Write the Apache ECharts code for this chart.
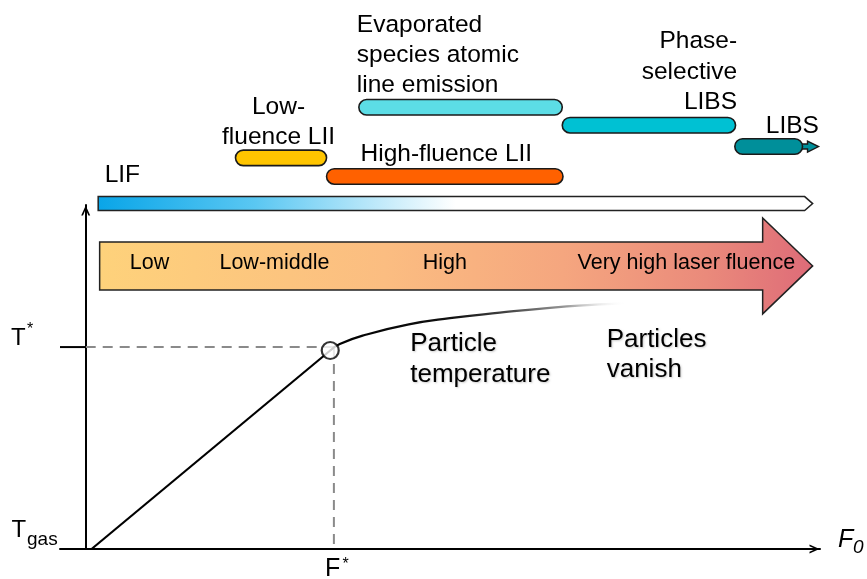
<!DOCTYPE html>
<html><head><meta charset="utf-8">
<script src="https://cdn.jsdelivr.net/npm/echarts@6/dist/echarts.min.js"></script>
<style>html,body{margin:0;padding:0;background:#fff}#chart{width:867px;height:579px}</style>
</head><body><div id="chart"></div>
<script>
// ---------------- data (axis units: fluence 0..100, temperature 0..100) ----------------
const xMin = -3.5, xMax = 100, yMin = 0, yMax = 100;

const bandNames  = ['Low-\nfluence LII', 'High-fluence LII', 'Evaporated\nspecies atomic\nline emission', 'Phase-\nselective\nLIBS', 'LIBS'];
const bandStart  = [20.4, 32.8, 37.2, 64.9, 88.4];
const bandEnd    = [32.8, 65.0, 64.9, 88.5, 99.8];
const bandLevel  = [113.7, 108.3, 128.4, 123.2, 117.0];

const lifName  = 'LIF';
const lifRange = [1.7, 99.0];
const lifLevel = 100.4;

const regimeNames   = ['Low', 'Low-middle', 'High', 'Very high laser fluence'];
const regimeCenters = [8.7, 25.7, 48.9, 81.8];
const fluenceArrowRange = [1.9, 99.0];
const fluenceArrowLevel = 82.3;

const riseX = [0.8, 33.3];
const riseY = [0, 57.7];
const plateauX = [33.3, 34.6, 38.0, 44.0, 49.6, 56.4, 63.2, 70.0, 73.4];
const plateauY = [57.7, 59.6, 62.2, 65.3, 67.1, 68.7, 70.1, 71.1, 71.5];
const knee = [33.3, 57.7];
const Fstar = 33.8;
const Tstar = 58.7;

const axisMarkMain = ['T', 'T', 'F', 'F'];
const axisMarkSub  = ['*', 'gas', '*', '0'];
const axisMarkAt   = [[xMin, Tstar], [xMin, yMin], [Fstar, yMin], [xMax, yMin]];

const noteTexts = ['Particle\ntemperature', 'Particles\nvanish'];
const noteAt    = [[44.2, 55.2], [70.95, 56.5]];

// ---------------- styles ----------------
const FONT = '"Liberation Sans", Arial, Helvetica, sans-serif';
const INK = '#000';
const bandColors = ['#ffc500', '#ff6100', '#5cdde6', '#00c1d3', '#008f9a'];
const bandLabelLayout = [
  {anchor: 'mid',   align: 'center', dx: -2.5, dy: -35.6, lh: 30},
  {anchor: 'start', align: 'left',   dx: 34,   dy: -22,   lh: 30},
  {anchor: 'start', align: 'left',   dx: -2,   dy: -51.8, lh: 30},
  {anchor: 'end',   align: 'right',  dx: 1.5,  dy: -53.3, lh: 30.5},
  {anchor: 'start', align: 'left',   dx: 31,   dy: -20.4, lh: 30}
];
const axisMarkLayout = [
  {mdx: -49,  mdy: -9,   msize: 24, sdx: -33, sdy: -27, ssize: 16, sva: 'top', italic: false},
  {mdx: -48.5,mdy: -18.8,msize: 24, sdx: -33, sdy: -9.5, ssize: 19, sva: 'middle', italic: false},
  {mdx: -9,   mdy: 20.5, msize: 25, sdx: 8.5, sdy: 6.5, ssize: 16, sva: 'top', italic: false},
  {mdx: 18,   mdy: -8.5, msize: 25, sdx: 33,  sdy: -1.5, ssize: 19, sva: 'middle', italic: true}
];

function txt(x, y, text, size, align, va, lh, extra) {
  return {
    type: 'text', x: x, y: y, silent: true,
    style: Object.assign({
      text: text, fill: INK, fontSize: size, fontFamily: FONT,
      align: align, textAlign: align, verticalAlign: va, textVerticalAlign: va,
      lineHeight: lh || Math.round(size * 1.2)
    }, extra || {})
  };
}

const chevron = 'path://M0,10 L4.5,0 L9,10 L7.2,10 L4.5,3.8 L1.8,10 Z';

const chart = echarts.init(document.getElementById('chart'), null, {renderer: 'canvas'});

chart.setOption({
  animation: false,
  backgroundColor: '#fff',
  grid: {left: 60, right: 47, top: 205, bottom: 30, containLabel: false},
  xAxis: {
    type: 'value', min: xMin, max: xMax,
    axisLine: {onZero: true, symbol: ['none', chevron], symbolSize: [9, 11], symbolOffset: [0, -5.5],
               lineStyle: {color: '#000', width: 2}},
    axisTick: {show: false}, axisLabel: {show: false}, splitLine: {show: false}
  },
  yAxis: {
    type: 'value', min: yMin, max: yMax,
    axisLine: {onZero: true, symbol: ['none', chevron], symbolSize: [9, 11], symbolOffset: [0, -5.5],
               lineStyle: {color: '#000', width: 2}},
    axisTick: {show: false}, axisLabel: {show: false}, splitLine: {show: false}
  },
  series: [
    {
      type: 'line', name: 'T* guide', silent: true, symbol: 'none', z: 2,
      data: [[0, Tstar], [Fstar, Tstar]],
      lineStyle: {color: '#8a8a8a', width: 2, type: [10, 7]}
    },
    {
      type: 'line', name: 'F* guide', silent: true, symbol: 'none', z: 2,
      data: [[Fstar, Tstar], [Fstar, yMin]],
      lineStyle: {color: '#8a8a8a', width: 2, type: [10, 7]}
    },
    {
      type: 'line', name: 'T* tick', silent: true, symbol: 'none', z: 3,
      data: [[xMin, Tstar], [0, Tstar]],
      lineStyle: {color: '#000', width: 2}
    },
    {
      type: 'line', name: 'rise', silent: true, symbol: 'none', z: 4,
      data: riseX.map((x, i) => [x, riseY[i]]),
      lineStyle: {color: '#000', width: 2.2}
    },
    {
      type: 'line', name: 'plateau', silent: true, symbol: 'none', smooth: 0.5, z: 4,
      data: plateauX.map((x, i) => [x, plateauY[i]]),
      lineStyle: {
        width: 2.2,
        color: new echarts.graphic.LinearGradient(0, 0, 1, 0, [
          {offset: 0, color: '#000'},
          {offset: 0.42, color: '#111'},
          {offset: 0.6, color: '#444'},
          {offset: 0.8, color: '#9a9a9a'},
          {offset: 1, color: 'rgba(255,255,255,0)'}
        ])
      }
    },
    {
      type: 'scatter', name: 'knee', silent: true, z: 6,
      data: [knee], symbol: 'circle', symbolSize: 17,
      itemStyle: {color: '#fff', borderColor: '#000', borderWidth: 2.2}
    },
    {
      type: 'custom', name: 'fluence arrow', silent: true, clip: false, z: 5,
      encode: {x: [0, 1], y: 2},
      data: [[fluenceArrowRange[0], fluenceArrowRange[1], fluenceArrowLevel]],
      renderItem: function (params, api) {
        const a = api.coord([api.value(0), api.value(2)]);
        const b = api.coord([api.value(1), api.value(2)]);
        const sx = a[0], ex = b[0], cy = a[1];
        const bh = 24, hh = 48, hl = 50;
        return {
          type: 'polygon', silent: true,
          shape: {points: [[sx, cy - bh], [ex - hl, cy - bh], [ex - hl, cy - hh], [ex, cy],
                           [ex - hl, cy + hh], [ex - hl, cy + bh], [sx, cy + bh]]},
          style: {
            fill: new echarts.graphic.LinearGradient(0, 0, 1, 0, [
              {offset: 0, color: '#fed27b'},
              {offset: 0.4, color: '#fbbd81'},
              {offset: 0.65, color: '#f5a67f'},
              {offset: 0.85, color: '#ea8a7b'},
              {offset: 1, color: '#de6b78'}
            ]),
            stroke: '#222', lineWidth: 1.5
          }
        };
      }
    },
    {
      type: 'custom', name: 'regimes', silent: true, clip: false, z: 7,
      encode: {x: 0, y: 1},
      data: regimeCenters.map(c => [c, fluenceArrowLevel]),
      renderItem: function (params, api) {
        const p = api.coord([api.value(0), api.value(1)]);
        return txt(p[0], p[1] - 2.5, regimeNames[params.dataIndex], 21.5, 'center', 'middle');
      }
    },
    {
      type: 'custom', name: 'LIF', silent: true, clip: false, z: 5,
      encode: {x: [0, 1], y: 2},
      data: [[lifRange[0], lifRange[1], lifLevel]],
      renderItem: function (params, api) {
        const a = api.coord([api.value(0), api.value(2)]);
        const b = api.coord([api.value(1), api.value(2)]);
        const sx = a[0], ex = b[0], cy = a[1];
        return {
          type: 'group', children: [
            {
              type: 'polygon', silent: true,
              shape: {points: [[sx, cy - 7], [ex - 8, cy - 7], [ex, cy], [ex - 8, cy + 7], [sx, cy + 7]]},
              style: {
                fill: new echarts.graphic.LinearGradient(0, 0, 1, 0, [
                  {offset: 0, color: '#09a5e8'},
                  {offset: 0.22, color: '#5ac7f2'},
                  {offset: 0.5, color: '#ffffff'},
                  {offset: 1, color: '#ffffff'}
                ]),
                stroke: '#222', lineWidth: 1.5
              }
            },
            txt(sx + 6.5, cy - 28.3, lifName, 24.5, 'left', 'middle')
          ]
        };
      }
    },
    {
      type: 'custom', name: 'bands', silent: true, clip: false, z: 8,
      encode: {x: [0, 1], y: 2},
      data: bandStart.map((s, i) => [s, bandEnd[i], bandLevel[i]]),
      renderItem: function (params, api) {
        const i = params.dataIndex;
        const a = api.coord([api.value(0), api.value(2)]);
        const b = api.coord([api.value(1), api.value(2)]);
        const cy = a[1], h = 15.5;
        const children = [];
        let bodyEnd = b[0];
        if (i === bandNames.length - 1) {
          const ex = b[0];
          bodyEnd = ex - 16;
          children.push({
            type: 'polygon', silent: true,
            shape: {points: [[ex - 19, cy - 2.5], [ex - 11, cy - 2.5], [ex - 11, cy - 5.5], [ex, cy],
                             [ex - 11, cy + 5.5], [ex - 11, cy + 2.5], [ex - 19, cy + 2.5]]},
            style: {fill: bandColors[i], stroke: '#1a1a1a', lineWidth: 1.4}
          });
        }
        children.push({
          type: 'rect', silent: true,
          shape: {x: a[0], y: cy - h / 2, width: bodyEnd - a[0], height: h, r: h / 2},
          style: {fill: bandColors[i], stroke: '#1a1a1a', lineWidth: 1.6}
        });
        const L = bandLabelLayout[i];
        const ax = L.anchor === 'start' ? a[0] : (L.anchor === 'end' ? b[0] : (a[0] + b[0]) / 2);
        children.push(txt(ax + L.dx, cy + L.dy, bandNames[i], 24.5, L.align, 'middle', L.lh));
        return {type: 'group', children: children};
      }
    },
    {
      type: 'custom', name: 'axis marks', silent: true, clip: false, z: 9,
      encode: {x: 0, y: 1},
      data: axisMarkAt,
      renderItem: function (params, api) {
        const i = params.dataIndex;
        const p = api.coord([api.value(0), api.value(1)]);
        const L = axisMarkLayout[i];
        const ext = L.italic ? {fontStyle: 'italic'} : {};
        return {
          type: 'group', children: [
            txt(p[0] + L.mdx, p[1] + L.mdy, axisMarkMain[i], L.msize, 'left', 'middle', null, ext),
            txt(p[0] + L.sdx, p[1] + L.sdy, axisMarkSub[i], L.ssize, 'left', L.sva, null, ext)
          ]
        };
      }
    },
    {
      type: 'custom', name: 'notes', silent: true, clip: false, z: 9,
      encode: {x: 0, y: 1},
      data: noteAt,
      renderItem: function (params, api) {
        const p = api.coord([api.value(0), api.value(1)]);
        return txt(p[0], p[1], noteTexts[params.dataIndex], 26, 'left', 'middle', 30.5,
          {textShadowColor: 'rgba(0,0,0,0.2)', textShadowBlur: 2, textShadowOffsetX: 1, textShadowOffsetY: 1});
      }
    }
  ]
});
</script>
</body></html>
